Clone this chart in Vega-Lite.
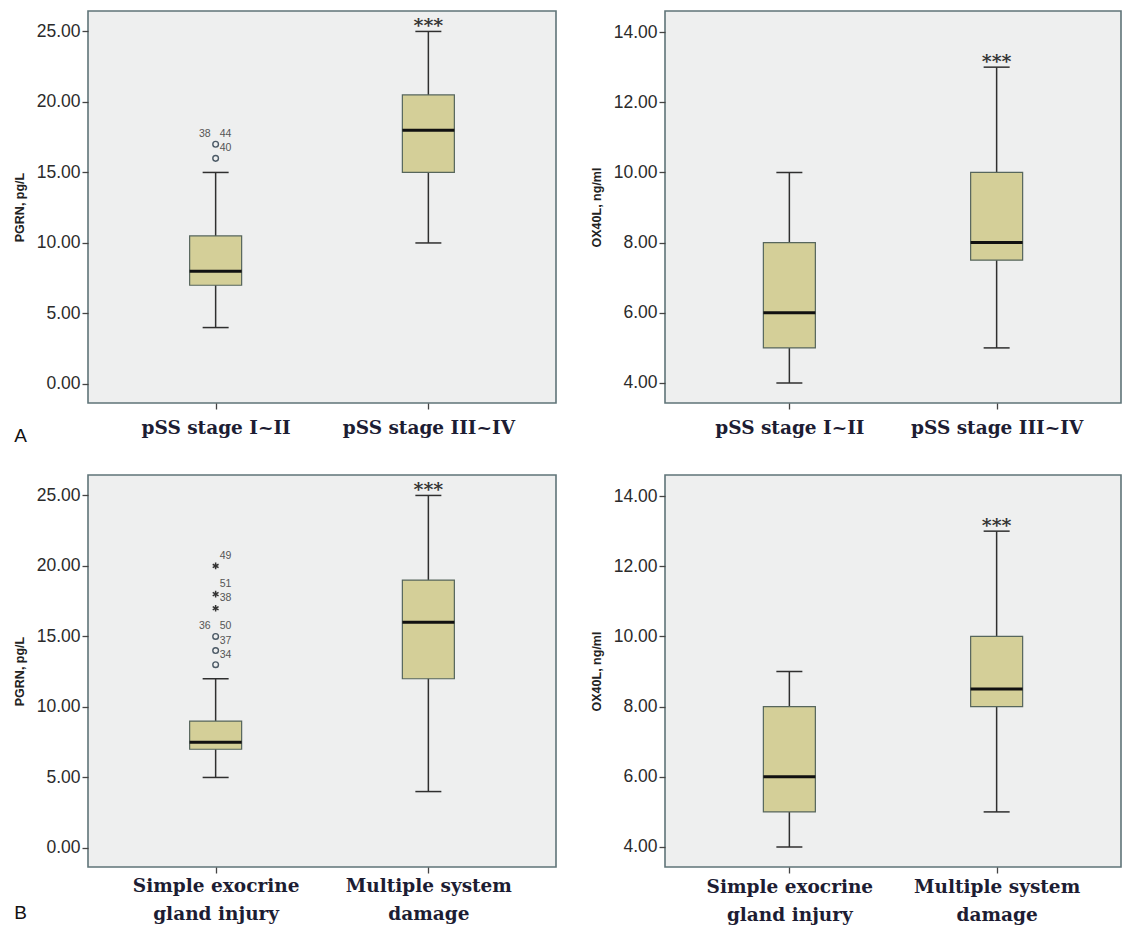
{
  "$schema": "https://vega.github.io/schema/vega-lite/v6.json",
  "background": "#ffffff",
  "padding": {"left": 12, "top": 10, "right": 5, "bottom": 5},
  "datasets": {
    "boxes": [
      {"panel": "A1", "group": "pSS stage I~II", "lo": 4, "q1": 7, "med": 8, "q3": 10.5, "hi": 15, "sig": ""},
      {"panel": "A1", "group": "pSS stage III~IV", "lo": 10, "q1": 15, "med": 18, "q3": 20.5, "hi": 25, "sig": "***"},
      {"panel": "A2", "group": "pSS stage I~II", "lo": 4, "q1": 5, "med": 6, "q3": 8, "hi": 10, "sig": ""},
      {"panel": "A2", "group": "pSS stage III~IV", "lo": 5, "q1": 7.5, "med": 8, "q3": 10, "hi": 13, "sig": "***"},
      {"panel": "B1", "group": "Simple exocrine gland injury", "lo": 5, "q1": 7, "med": 7.5, "q3": 9, "hi": 12, "sig": ""},
      {"panel": "B1", "group": "Multiple system damage", "lo": 4, "q1": 12, "med": 16, "q3": 19, "hi": 25, "sig": "***"},
      {"panel": "B2", "group": "Simple exocrine gland injury", "lo": 4, "q1": 5, "med": 6, "q3": 8, "hi": 9, "sig": ""},
      {"panel": "B2", "group": "Multiple system damage", "lo": 5, "q1": 8, "med": 8.5, "q3": 10, "hi": 13, "sig": "***"}
    ],
    "outliers": [
      {"panel": "A1", "group": "pSS stage I~II", "value": 17, "kind": "circle"},
      {"panel": "A1", "group": "pSS stage I~II", "value": 16, "kind": "circle"},
      {"panel": "B1", "group": "Simple exocrine gland injury", "value": 20, "kind": "star"},
      {"panel": "B1", "group": "Simple exocrine gland injury", "value": 18, "kind": "star"},
      {"panel": "B1", "group": "Simple exocrine gland injury", "value": 17, "kind": "star"},
      {"panel": "B1", "group": "Simple exocrine gland injury", "value": 15, "kind": "circle"},
      {"panel": "B1", "group": "Simple exocrine gland injury", "value": 14, "kind": "circle"},
      {"panel": "B1", "group": "Simple exocrine gland injury", "value": 13, "kind": "circle"}
    ],
    "labels": [
      {"panel": "A1", "group": "pSS stage I~II", "value": 17, "label": "38", "side": "L"},
      {"panel": "A1", "group": "pSS stage I~II", "value": 17, "label": "44", "side": "R"},
      {"panel": "A1", "group": "pSS stage I~II", "value": 16, "label": "40", "side": "R"},
      {"panel": "B1", "group": "Simple exocrine gland injury", "value": 20, "label": "49", "side": "R"},
      {"panel": "B1", "group": "Simple exocrine gland injury", "value": 18, "label": "51", "side": "R"},
      {"panel": "B1", "group": "Simple exocrine gland injury", "value": 17, "label": "38", "side": "R"},
      {"panel": "B1", "group": "Simple exocrine gland injury", "value": 15, "label": "36", "side": "L"},
      {"panel": "B1", "group": "Simple exocrine gland injury", "value": 15, "label": "50", "side": "R"},
      {"panel": "B1", "group": "Simple exocrine gland injury", "value": 14, "label": "37", "side": "R"},
      {"panel": "B1", "group": "Simple exocrine gland injury", "value": 13, "label": "34", "side": "R"}
    ]
  },
  "config": {
    "view": {"stroke": "#5f7478", "strokeWidth": 1.6, "fill": "#eeefef"},
    "axis": {"domain": false, "grid": false, "ticks": true, "tickColor": "#444444", "tickWidth": 1.3, "tickSize": 6, "labelFont": "Liberation Sans", "labelColor": "#2b2b2b"},
    "axisY": {"labelFontSize": 17.5, "labelPadding": 2, "titleFont": "Liberation Sans", "titleFontSize": 12.5, "titleFontWeight": "bold", "titleColor": "#222222", "titleAngle": -90, "titleX": -69, "titleY": 196, "titleAlign": "center", "titleBaseline": "middle"},
    "axisX": {"labelFont": "DejaVu Serif", "labelFontWeight": "bold", "labelFontSize": 18.5, "labelColor": "#1d1d33", "labelAngle": 0, "labelPadding": 9, "labelLineHeight": 28, "titleFont": "Liberation Sans", "titleFontSize": 19, "titleFontWeight": "normal", "titleColor": "#111111", "titleAlign": "center", "titleBaseline": "middle", "titleX": -68, "titleY": 32}
  },
  "columns": 2,
  "bounds": "flush",
  "spacing": {"row": 72, "column": 109},
  "concat": [
    {
      "width": 468, "height": 392,
      "encoding": {"x": {"field": "group", "type": "nominal", "scale": {"type": "point", "padding": 0.6, "domain": ["pSS stage I~II", "pSS stage III~IV"]}, "axis": {"title": "A"}}},
      "layer": [
        {"data": {"name": "boxes"}, "transform": [{"filter": "datum.panel === 'A1'"}], "mark": {"type": "rule", "color": "#2f2f2f", "strokeWidth": 1.5},
         "encoding": {"y": {"field": "lo", "type": "quantitative", "title": "PGRN, pg/L", "scale": {"domain": [-1.35, 26.45], "nice": false, "zero": false}, "axis": {"values": [0, 5, 10, 15, 20, 25], "format": ".2f"}}, "y2": {"field": "hi"}}},
        {"data": {"name": "boxes"}, "transform": [{"filter": "datum.panel === 'A1'"}], "mark": {"type": "bar", "width": 52, "fill": "#d4cf98", "stroke": "#56665c", "strokeWidth": 1.2},
         "encoding": {"y": {"field": "q1", "type": "quantitative", "title": "PGRN, pg/L", "scale": {"domain": [-1.35, 26.45], "nice": false, "zero": false}, "axis": {"values": [0, 5, 10, 15, 20, 25], "format": ".2f"}}, "y2": {"field": "q3"}}},
        {"data": {"name": "boxes"}, "transform": [{"filter": "datum.panel === 'A1'"}], "mark": {"type": "tick", "size": 52, "thickness": 3, "color": "#111111", "opacity": 1},
         "encoding": {"y": {"field": "med", "type": "quantitative", "title": "PGRN, pg/L", "scale": {"domain": [-1.35, 26.45], "nice": false, "zero": false}, "axis": {"values": [0, 5, 10, 15, 20, 25], "format": ".2f"}}}},
        {"data": {"name": "boxes"}, "transform": [{"filter": "datum.panel === 'A1'"}], "mark": {"type": "tick", "size": 26, "thickness": 1.5, "color": "#2f2f2f", "opacity": 1},
         "encoding": {"y": {"field": "lo", "type": "quantitative", "title": "PGRN, pg/L", "scale": {"domain": [-1.35, 26.45], "nice": false, "zero": false}, "axis": {"values": [0, 5, 10, 15, 20, 25], "format": ".2f"}}}},
        {"data": {"name": "boxes"}, "transform": [{"filter": "datum.panel === 'A1'"}], "mark": {"type": "tick", "size": 26, "thickness": 1.5, "color": "#2f2f2f", "opacity": 1},
         "encoding": {"y": {"field": "hi", "type": "quantitative", "title": "PGRN, pg/L", "scale": {"domain": [-1.35, 26.45], "nice": false, "zero": false}, "axis": {"values": [0, 5, 10, 15, 20, 25], "format": ".2f"}}}},
        {"data": {"name": "boxes"}, "transform": [{"filter": "datum.panel === 'A1' && datum.sig !== ''"}], "mark": {"type": "text", "font": "DejaVu Serif", "fontWeight": "bold", "fontSize": 19, "color": "#333333", "baseline": "alphabetic", "dy": 1},
         "encoding": {"y": {"field": "hi", "type": "quantitative", "title": "PGRN, pg/L", "scale": {"domain": [-1.35, 26.45], "nice": false, "zero": false}, "axis": {"values": [0, 5, 10, 15, 20, 25], "format": ".2f"}}, "text": {"field": "sig"}}},
        {"data": {"name": "outliers"}, "transform": [{"filter": "datum.panel === 'A1' && datum.kind === 'circle'"}], "mark": {"type": "point", "shape": "circle", "filled": false, "size": 32, "color": "#4c5a66", "strokeWidth": 1.4, "opacity": 1},
         "encoding": {"y": {"field": "value", "type": "quantitative", "title": "PGRN, pg/L", "scale": {"domain": [-1.35, 26.45], "nice": false, "zero": false}, "axis": {"values": [0, 5, 10, 15, 20, 25], "format": ".2f"}}}},
        {"data": {"name": "labels"}, "transform": [{"filter": "datum.panel === 'A1' && datum.side === 'R'"}], "mark": {"type": "text", "align": "left", "baseline": "middle", "dx": 4, "dy": -10, "font": "Liberation Sans", "fontSize": 10.5, "color": "#555555"},
         "encoding": {"y": {"field": "value", "type": "quantitative", "title": "PGRN, pg/L", "scale": {"domain": [-1.35, 26.45], "nice": false, "zero": false}, "axis": {"values": [0, 5, 10, 15, 20, 25], "format": ".2f"}}, "text": {"field": "label"}}},
        {"data": {"name": "labels"}, "transform": [{"filter": "datum.panel === 'A1' && datum.side === 'L'"}], "mark": {"type": "text", "align": "right", "baseline": "middle", "dx": -5, "dy": -10, "font": "Liberation Sans", "fontSize": 10.5, "color": "#555555"},
         "encoding": {"y": {"field": "value", "type": "quantitative", "title": "PGRN, pg/L", "scale": {"domain": [-1.35, 26.45], "nice": false, "zero": false}, "axis": {"values": [0, 5, 10, 15, 20, 25], "format": ".2f"}}, "text": {"field": "label"}}}
      ]
    },
    {
      "width": 456, "height": 392,
      "encoding": {"x": {"field": "group", "type": "nominal", "scale": {"type": "point", "padding": 0.6, "domain": ["pSS stage I~II", "pSS stage III~IV"]}, "axis": {"title": null}}},
      "layer": [
        {"data": {"name": "boxes"}, "transform": [{"filter": "datum.panel === 'A2'"}], "mark": {"type": "rule", "color": "#2f2f2f", "strokeWidth": 1.5},
         "encoding": {"y": {"field": "lo", "type": "quantitative", "title": "OX40L, ng/ml", "scale": {"domain": [3.43, 14.6], "nice": false, "zero": false}, "axis": {"values": [4, 6, 8, 10, 12, 14], "format": ".2f"}}, "y2": {"field": "hi"}}},
        {"data": {"name": "boxes"}, "transform": [{"filter": "datum.panel === 'A2'"}], "mark": {"type": "bar", "width": 52, "fill": "#d4cf98", "stroke": "#56665c", "strokeWidth": 1.2},
         "encoding": {"y": {"field": "q1", "type": "quantitative", "title": "OX40L, ng/ml", "scale": {"domain": [3.43, 14.6], "nice": false, "zero": false}, "axis": {"values": [4, 6, 8, 10, 12, 14], "format": ".2f"}}, "y2": {"field": "q3"}}},
        {"data": {"name": "boxes"}, "transform": [{"filter": "datum.panel === 'A2'"}], "mark": {"type": "tick", "size": 52, "thickness": 3, "color": "#111111", "opacity": 1},
         "encoding": {"y": {"field": "med", "type": "quantitative", "title": "OX40L, ng/ml", "scale": {"domain": [3.43, 14.6], "nice": false, "zero": false}, "axis": {"values": [4, 6, 8, 10, 12, 14], "format": ".2f"}}}},
        {"data": {"name": "boxes"}, "transform": [{"filter": "datum.panel === 'A2'"}], "mark": {"type": "tick", "size": 26, "thickness": 1.5, "color": "#2f2f2f", "opacity": 1},
         "encoding": {"y": {"field": "lo", "type": "quantitative", "title": "OX40L, ng/ml", "scale": {"domain": [3.43, 14.6], "nice": false, "zero": false}, "axis": {"values": [4, 6, 8, 10, 12, 14], "format": ".2f"}}}},
        {"data": {"name": "boxes"}, "transform": [{"filter": "datum.panel === 'A2'"}], "mark": {"type": "tick", "size": 26, "thickness": 1.5, "color": "#2f2f2f", "opacity": 1},
         "encoding": {"y": {"field": "hi", "type": "quantitative", "title": "OX40L, ng/ml", "scale": {"domain": [3.43, 14.6], "nice": false, "zero": false}, "axis": {"values": [4, 6, 8, 10, 12, 14], "format": ".2f"}}}},
        {"data": {"name": "boxes"}, "transform": [{"filter": "datum.panel === 'A2' && datum.sig !== ''"}], "mark": {"type": "text", "font": "DejaVu Serif", "fontWeight": "bold", "fontSize": 19, "color": "#333333", "baseline": "alphabetic", "dy": 1},
         "encoding": {"y": {"field": "hi", "type": "quantitative", "title": "OX40L, ng/ml", "scale": {"domain": [3.43, 14.6], "nice": false, "zero": false}, "axis": {"values": [4, 6, 8, 10, 12, 14], "format": ".2f"}}, "text": {"field": "sig"}}}
      ]
    },
    {
      "width": 468, "height": 392,
      "encoding": {"x": {"field": "group", "type": "nominal", "scale": {"type": "point", "padding": 0.6, "domain": ["Simple exocrine gland injury", "Multiple system damage"]}, "axis": {"title": "B", "titleY": 45, "labelPadding": 3, "labelExpr": "datum.label === 'Simple exocrine gland injury' ? ['Simple exocrine', 'gland injury'] : ['Multiple system', 'damage']"}}},
      "layer": [
        {"data": {"name": "boxes"}, "transform": [{"filter": "datum.panel === 'B1'"}], "mark": {"type": "rule", "color": "#2f2f2f", "strokeWidth": 1.5},
         "encoding": {"y": {"field": "lo", "type": "quantitative", "title": "PGRN, pg/L", "scale": {"domain": [-1.35, 26.45], "nice": false, "zero": false}, "axis": {"values": [0, 5, 10, 15, 20, 25], "format": ".2f"}}, "y2": {"field": "hi"}}},
        {"data": {"name": "boxes"}, "transform": [{"filter": "datum.panel === 'B1'"}], "mark": {"type": "bar", "width": 52, "fill": "#d4cf98", "stroke": "#56665c", "strokeWidth": 1.2},
         "encoding": {"y": {"field": "q1", "type": "quantitative", "title": "PGRN, pg/L", "scale": {"domain": [-1.35, 26.45], "nice": false, "zero": false}, "axis": {"values": [0, 5, 10, 15, 20, 25], "format": ".2f"}}, "y2": {"field": "q3"}}},
        {"data": {"name": "boxes"}, "transform": [{"filter": "datum.panel === 'B1'"}], "mark": {"type": "tick", "size": 52, "thickness": 3, "color": "#111111", "opacity": 1},
         "encoding": {"y": {"field": "med", "type": "quantitative", "title": "PGRN, pg/L", "scale": {"domain": [-1.35, 26.45], "nice": false, "zero": false}, "axis": {"values": [0, 5, 10, 15, 20, 25], "format": ".2f"}}}},
        {"data": {"name": "boxes"}, "transform": [{"filter": "datum.panel === 'B1'"}], "mark": {"type": "tick", "size": 26, "thickness": 1.5, "color": "#2f2f2f", "opacity": 1},
         "encoding": {"y": {"field": "lo", "type": "quantitative", "title": "PGRN, pg/L", "scale": {"domain": [-1.35, 26.45], "nice": false, "zero": false}, "axis": {"values": [0, 5, 10, 15, 20, 25], "format": ".2f"}}}},
        {"data": {"name": "boxes"}, "transform": [{"filter": "datum.panel === 'B1'"}], "mark": {"type": "tick", "size": 26, "thickness": 1.5, "color": "#2f2f2f", "opacity": 1},
         "encoding": {"y": {"field": "hi", "type": "quantitative", "title": "PGRN, pg/L", "scale": {"domain": [-1.35, 26.45], "nice": false, "zero": false}, "axis": {"values": [0, 5, 10, 15, 20, 25], "format": ".2f"}}}},
        {"data": {"name": "boxes"}, "transform": [{"filter": "datum.panel === 'B1' && datum.sig !== ''"}], "mark": {"type": "text", "font": "DejaVu Serif", "fontWeight": "bold", "fontSize": 19, "color": "#333333", "baseline": "alphabetic", "dy": 1},
         "encoding": {"y": {"field": "hi", "type": "quantitative", "title": "PGRN, pg/L", "scale": {"domain": [-1.35, 26.45], "nice": false, "zero": false}, "axis": {"values": [0, 5, 10, 15, 20, 25], "format": ".2f"}}, "text": {"field": "sig"}}},
        {"data": {"name": "outliers"}, "transform": [{"filter": "datum.panel === 'B1' && datum.kind === 'circle'"}], "mark": {"type": "point", "shape": "circle", "filled": false, "size": 32, "color": "#4c5a66", "strokeWidth": 1.4, "opacity": 1},
         "encoding": {"y": {"field": "value", "type": "quantitative", "title": "PGRN, pg/L", "scale": {"domain": [-1.35, 26.45], "nice": false, "zero": false}, "axis": {"values": [0, 5, 10, 15, 20, 25], "format": ".2f"}}}},
        {"data": {"name": "outliers"}, "transform": [{"filter": "datum.panel === 'B1' && datum.kind === 'star'"}], "mark": {"type": "point", "shape": "M0,-1L0,1M-0.87,-0.5L0.87,0.5M-0.87,0.5L0.87,-0.5", "filled": false, "size": 45, "color": "#333333", "strokeWidth": 1.5, "opacity": 1},
         "encoding": {"y": {"field": "value", "type": "quantitative", "title": "PGRN, pg/L", "scale": {"domain": [-1.35, 26.45], "nice": false, "zero": false}, "axis": {"values": [0, 5, 10, 15, 20, 25], "format": ".2f"}}}},
        {"data": {"name": "labels"}, "transform": [{"filter": "datum.panel === 'B1' && datum.side === 'R'"}], "mark": {"type": "text", "align": "left", "baseline": "middle", "dx": 4, "dy": -10, "font": "Liberation Sans", "fontSize": 10.5, "color": "#555555"},
         "encoding": {"y": {"field": "value", "type": "quantitative", "title": "PGRN, pg/L", "scale": {"domain": [-1.35, 26.45], "nice": false, "zero": false}, "axis": {"values": [0, 5, 10, 15, 20, 25], "format": ".2f"}}, "text": {"field": "label"}}},
        {"data": {"name": "labels"}, "transform": [{"filter": "datum.panel === 'B1' && datum.side === 'L'"}], "mark": {"type": "text", "align": "right", "baseline": "middle", "dx": -5, "dy": -10, "font": "Liberation Sans", "fontSize": 10.5, "color": "#555555"},
         "encoding": {"y": {"field": "value", "type": "quantitative", "title": "PGRN, pg/L", "scale": {"domain": [-1.35, 26.45], "nice": false, "zero": false}, "axis": {"values": [0, 5, 10, 15, 20, 25], "format": ".2f"}}, "text": {"field": "label"}}}
      ]
    },
    {
      "width": 456, "height": 392,
      "encoding": {"x": {"field": "group", "type": "nominal", "scale": {"type": "point", "padding": 0.6, "domain": ["Simple exocrine gland injury", "Multiple system damage"]}, "axis": {"title": null, "labelPadding": 4, "labelExpr": "datum.label === 'Simple exocrine gland injury' ? ['Simple exocrine', 'gland injury'] : ['Multiple system', 'damage']"}}},
      "layer": [
        {"data": {"name": "boxes"}, "transform": [{"filter": "datum.panel === 'B2'"}], "mark": {"type": "rule", "color": "#2f2f2f", "strokeWidth": 1.5},
         "encoding": {"y": {"field": "lo", "type": "quantitative", "title": "OX40L, ng/ml", "scale": {"domain": [3.43, 14.6], "nice": false, "zero": false}, "axis": {"values": [4, 6, 8, 10, 12, 14], "format": ".2f"}}, "y2": {"field": "hi"}}},
        {"data": {"name": "boxes"}, "transform": [{"filter": "datum.panel === 'B2'"}], "mark": {"type": "bar", "width": 52, "fill": "#d4cf98", "stroke": "#56665c", "strokeWidth": 1.2},
         "encoding": {"y": {"field": "q1", "type": "quantitative", "title": "OX40L, ng/ml", "scale": {"domain": [3.43, 14.6], "nice": false, "zero": false}, "axis": {"values": [4, 6, 8, 10, 12, 14], "format": ".2f"}}, "y2": {"field": "q3"}}},
        {"data": {"name": "boxes"}, "transform": [{"filter": "datum.panel === 'B2'"}], "mark": {"type": "tick", "size": 52, "thickness": 3, "color": "#111111", "opacity": 1},
         "encoding": {"y": {"field": "med", "type": "quantitative", "title": "OX40L, ng/ml", "scale": {"domain": [3.43, 14.6], "nice": false, "zero": false}, "axis": {"values": [4, 6, 8, 10, 12, 14], "format": ".2f"}}}},
        {"data": {"name": "boxes"}, "transform": [{"filter": "datum.panel === 'B2'"}], "mark": {"type": "tick", "size": 26, "thickness": 1.5, "color": "#2f2f2f", "opacity": 1},
         "encoding": {"y": {"field": "lo", "type": "quantitative", "title": "OX40L, ng/ml", "scale": {"domain": [3.43, 14.6], "nice": false, "zero": false}, "axis": {"values": [4, 6, 8, 10, 12, 14], "format": ".2f"}}}},
        {"data": {"name": "boxes"}, "transform": [{"filter": "datum.panel === 'B2'"}], "mark": {"type": "tick", "size": 26, "thickness": 1.5, "color": "#2f2f2f", "opacity": 1},
         "encoding": {"y": {"field": "hi", "type": "quantitative", "title": "OX40L, ng/ml", "scale": {"domain": [3.43, 14.6], "nice": false, "zero": false}, "axis": {"values": [4, 6, 8, 10, 12, 14], "format": ".2f"}}}},
        {"data": {"name": "boxes"}, "transform": [{"filter": "datum.panel === 'B2' && datum.sig !== ''"}], "mark": {"type": "text", "font": "DejaVu Serif", "fontWeight": "bold", "fontSize": 19, "color": "#333333", "baseline": "alphabetic", "dy": 1},
         "encoding": {"y": {"field": "hi", "type": "quantitative", "title": "OX40L, ng/ml", "scale": {"domain": [3.43, 14.6], "nice": false, "zero": false}, "axis": {"values": [4, 6, 8, 10, 12, 14], "format": ".2f"}}, "text": {"field": "sig"}}}
      ]
    }
  ]
}
